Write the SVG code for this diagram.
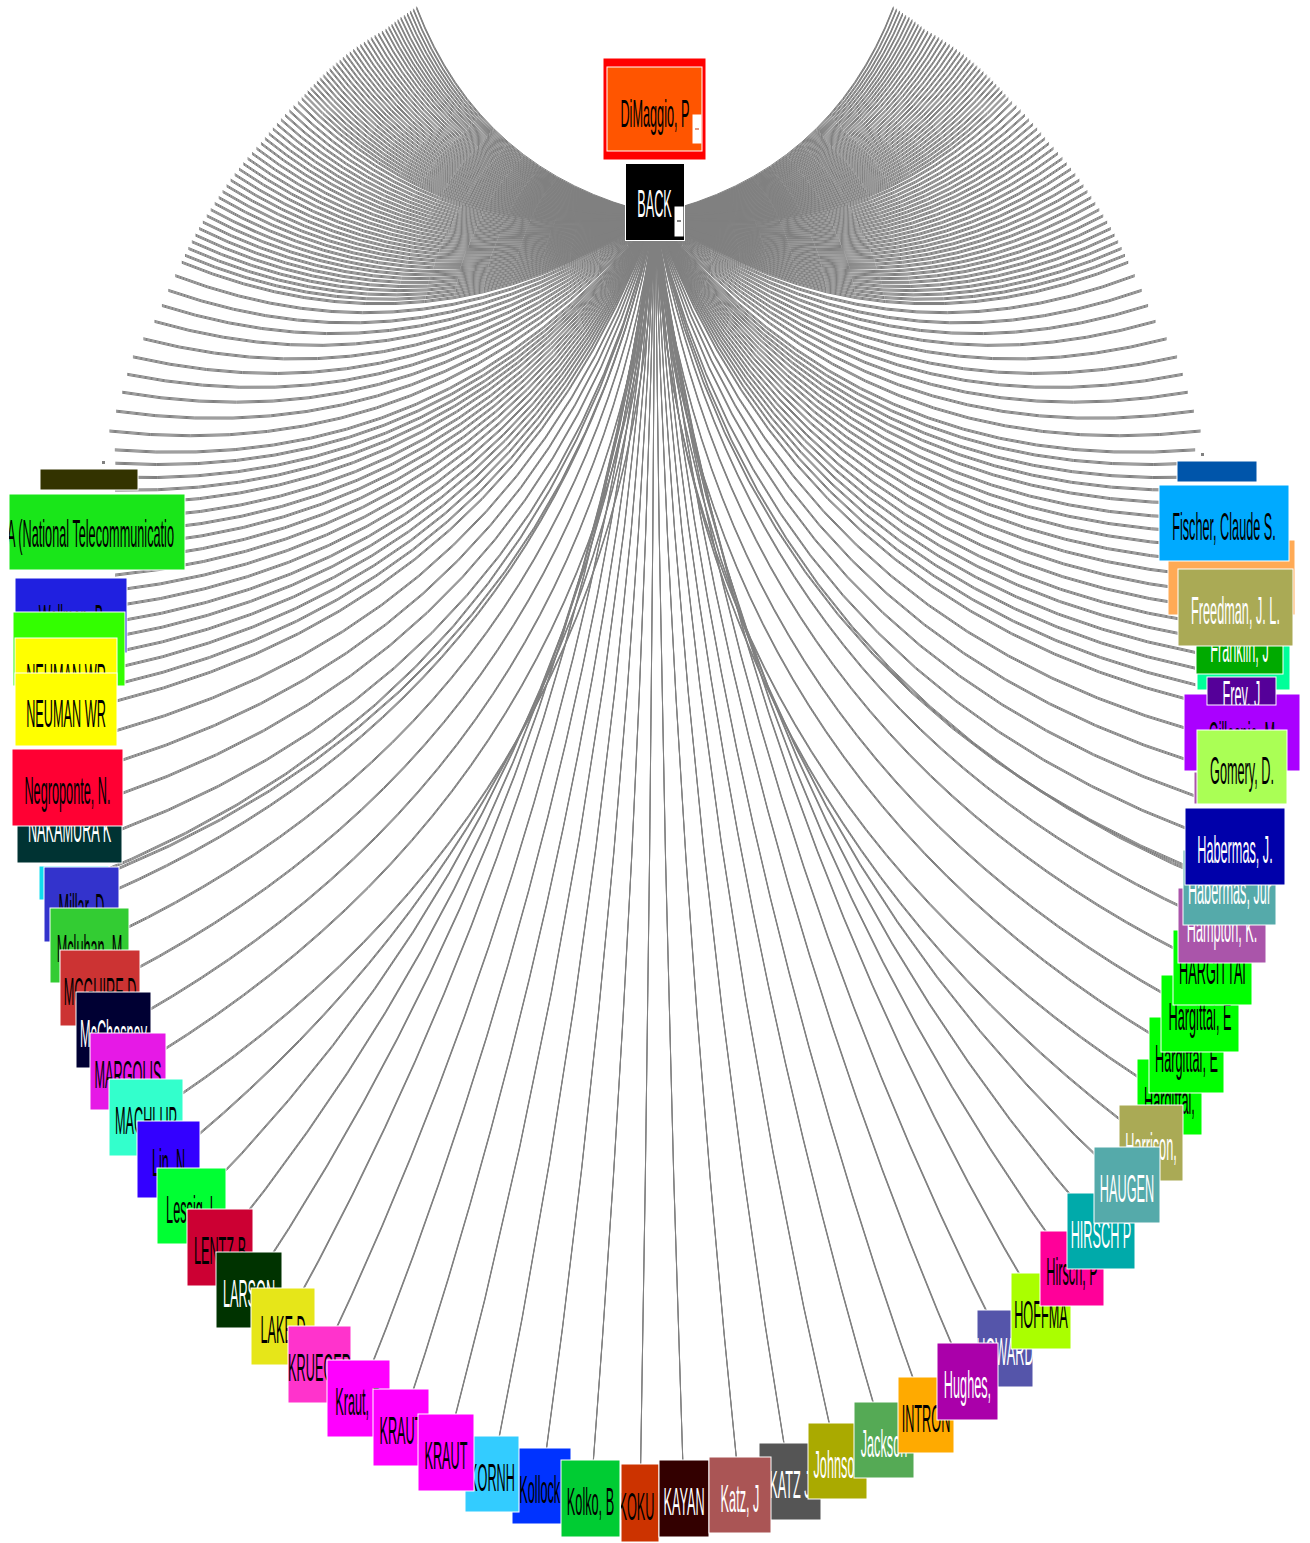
<svg xmlns="http://www.w3.org/2000/svg" xmlns:xlink="http://www.w3.org/1999/xlink" width="1310" height="1543" viewBox="0 0 1310 1543">
<style>
.n rect{stroke:#fff;stroke-width:1}
.n text{font-family:"Liberation Sans",Arial,sans-serif;font-size:12.7px;text-anchor:middle;fill:#000}
.n text.w{fill:#fff}
</style>
<defs>
<path id="cl" d="M-100 0Q-50 26.6 0 0" vector-effect="non-scaling-stroke"/>
<path id="cr" d="M100 0Q50 26.6 0 0" vector-effect="non-scaling-stroke"/>
<clipPath id="cL2"><rect x="9" y="494" width="176" height="76"/></clipPath>
<clipPath id="cL28"><rect x="621" y="1464" width="38" height="78"/></clipPath>
<clipPath id="cR7"><rect x="1207" y="677" width="69" height="28"/></clipPath>
<clipPath id="cR23"><rect x="977" y="1310" width="56" height="77"/></clipPath>
</defs>
<rect width="1310" height="1543" fill="#fff"/>
<g id="connectors" fill="none" stroke="#808080" stroke-width="1">
<g id="edges">
<g transform="translate(655 215)">
<use href="#cl" transform="rotate(41) scale(3.16)"/>
<use href="#cl" transform="rotate(40.35) scale(3.17)"/>
<use href="#cl" transform="rotate(39.7) scale(3.18)"/>
<use href="#cl" transform="rotate(39.05) scale(3.19)"/>
<use href="#cl" transform="rotate(38.4) scale(3.2)"/>
<use href="#cl" transform="rotate(37.75) scale(3.215)"/>
<use href="#cl" transform="rotate(37.1) scale(3.225)"/>
<use href="#cl" transform="rotate(36.45) scale(3.235)"/>
<use href="#cl" transform="rotate(35.8) scale(3.246)"/>
<use href="#cl" transform="rotate(35.15) scale(3.257)"/>
<use href="#cl" transform="rotate(34.5) scale(3.268)"/>
<use href="#cl" transform="rotate(33.85) scale(3.286)"/>
<use href="#cl" transform="rotate(33.2) scale(3.305)"/>
<use href="#cl" transform="rotate(32.55) scale(3.324)"/>
<use href="#cl" transform="rotate(31.9) scale(3.343)"/>
<use href="#cl" transform="rotate(31.25) scale(3.361)"/>
<use href="#cl" transform="rotate(30.6) scale(3.38)"/>
<use href="#cl" transform="rotate(29.95) scale(3.399)"/>
<use href="#cl" transform="rotate(29.3) scale(3.418)"/>
<use href="#cl" transform="rotate(28.65) scale(3.437)"/>
<use href="#cl" transform="rotate(28) scale(3.455)"/>
<use href="#cl" transform="rotate(27.35) scale(3.474)"/>
<use href="#cl" transform="rotate(26.7) scale(3.492)"/>
<use href="#cl" transform="rotate(26.05) scale(3.509)"/>
<use href="#cl" transform="rotate(25.4) scale(3.527)"/>
<use href="#cl" transform="rotate(24.75) scale(3.544)"/>
<use href="#cl" transform="rotate(24.1) scale(3.562)"/>
<use href="#cl" transform="rotate(23.45) scale(3.579)"/>
<use href="#cl" transform="rotate(22.8) scale(3.597)"/>
<use href="#cl" transform="rotate(22.15) scale(3.615)"/>
<use href="#cl" transform="rotate(21.5) scale(3.632)"/>
<use href="#cl" transform="rotate(20.85) scale(3.65)"/>
<use href="#cl" transform="rotate(20.2) scale(3.668)"/>
<use href="#cl" transform="rotate(19.55) scale(3.685)"/>
<use href="#cl" transform="rotate(18.9) scale(3.703)"/>
<use href="#cl" transform="rotate(18.25) scale(3.72)"/>
<use href="#cl" transform="rotate(17.5) scale(3.744)"/>
<use href="#cl" transform="rotate(16.7) scale(3.773)"/>
<use href="#cl" transform="rotate(15.9) scale(3.802)"/>
<use href="#cl" transform="rotate(15.1) scale(3.831)"/>
<use href="#cl" transform="rotate(14.3) scale(3.86)"/>
<use href="#cl" transform="rotate(13.5) scale(3.888)"/>
<use href="#cl" transform="rotate(12.7) scale(3.917)"/>
<use href="#cl" transform="rotate(11.9) scale(3.946)"/>
<use href="#cl" transform="rotate(11.1) scale(3.975)"/>
<use href="#cl" transform="rotate(10.3) scale(4.005)"/>
<use href="#cl" transform="rotate(9.5) scale(4.041)"/>
<use href="#cl" transform="rotate(8.7) scale(4.077)"/>
<use href="#cl" transform="rotate(7.9) scale(4.113)"/>
<use href="#cl" transform="rotate(7.1) scale(4.149)"/>
<use href="#cl" transform="rotate(6.3) scale(4.185)"/>
<use href="#cl" transform="rotate(5.5) scale(4.222)"/>
<use href="#cl" transform="rotate(4.7) scale(4.258)"/>
<use href="#cl" transform="rotate(3.9) scale(4.294)"/>
<use href="#cl" transform="rotate(3.1) scale(4.33)"/>
<use href="#cl" transform="rotate(2.3) scale(4.366)"/>
<use href="#cl" transform="rotate(1.5) scale(4.404)"/>
<use href="#cl" transform="rotate(0.7) scale(4.443)"/>
<use href="#cl" transform="rotate(-0.1) scale(4.482)"/>
<use href="#cl" transform="rotate(-0.9) scale(4.522)"/>
<use href="#cl" transform="rotate(-1.7) scale(4.561)"/>
<use href="#cl" transform="rotate(-2.5) scale(4.6)"/>
<use href="#cl" transform="rotate(-3.3) scale(4.639)"/>
<use href="#cl" transform="rotate(-4.1) scale(4.678)"/>
<use href="#cl" transform="rotate(-4.9) scale(4.717)"/>
<use href="#cl" transform="rotate(-5.7) scale(4.756)"/>
<use href="#cl" transform="rotate(-7.2) scale(4.836)"/>
<use href="#cl" transform="rotate(-8.8) scale(4.925)"/>
<use href="#cl" transform="rotate(-10.4) scale(5.013)"/>
<use href="#cl" transform="rotate(-12) scale(5.117)"/>
<use href="#cl" transform="rotate(-13.6) scale(5.264)"/>
<use href="#cl" transform="rotate(-15.2) scale(5.41)"/>
<use href="#cl" transform="rotate(-16.8) scale(5.513)"/>
<use href="#cl" transform="rotate(-18.4) scale(5.615)"/>
<use href="#cl" transform="rotate(-20) scale(5.735)"/>
<use href="#cl" transform="rotate(-21.6) scale(5.868)"/>
<use href="#cl" transform="rotate(-23.5) scale(5.89)"/>
<use href="#cl" transform="rotate(-24.7) scale(5.94)"/>
<use href="#cl" transform="rotate(-25.9) scale(6)"/>
<use href="#cl" transform="rotate(-27) scale(6.06)"/>
<use href="#cl" transform="rotate(-28.1) scale(6.12)"/>
<use href="#cl" transform="rotate(-29.3) scale(6.19)"/>
<use href="#cl" transform="rotate(-30.4) scale(6.26)"/>
<use href="#cl" transform="rotate(-31.5) scale(6.33)"/>
<use href="#cl" transform="rotate(-32.6) scale(6.41)"/>
<use href="#cl" transform="rotate(-33.7) scale(6.49)"/>
<use href="#cl" transform="rotate(-34.8) scale(6.58)"/>
<use href="#cl" transform="rotate(-35.9) scale(6.67)"/>
<use href="#cl" transform="rotate(-37) scale(6.76)"/>
<use href="#cl" transform="rotate(-38) scale(6.85)"/>
<use href="#cl" transform="rotate(-39) scale(6.95)"/>
<use href="#cl" transform="rotate(-40) scale(7.05)"/>
<use href="#cl" transform="rotate(-41) scale(7.16)"/>
<use href="#cl" transform="rotate(-42) scale(7.27)"/>
<use href="#cl" transform="rotate(-43.7) scale(7.47)"/>
<use href="#cl" transform="rotate(-45.4) scale(7.69)"/>
<use href="#cl" transform="rotate(-47.1) scale(7.93)"/>
<use href="#cl" transform="rotate(-48.8) scale(8.2)"/>
<use href="#cl" transform="rotate(-50.5) scale(8.49)"/>
<use href="#cr" transform="rotate(-41) scale(3.16)"/>
<use href="#cr" transform="rotate(-40.35) scale(3.17)"/>
<use href="#cr" transform="rotate(-39.7) scale(3.18)"/>
<use href="#cr" transform="rotate(-39.05) scale(3.19)"/>
<use href="#cr" transform="rotate(-38.4) scale(3.2)"/>
<use href="#cr" transform="rotate(-37.75) scale(3.215)"/>
<use href="#cr" transform="rotate(-37.1) scale(3.225)"/>
<use href="#cr" transform="rotate(-36.45) scale(3.235)"/>
<use href="#cr" transform="rotate(-35.8) scale(3.246)"/>
<use href="#cr" transform="rotate(-35.15) scale(3.257)"/>
<use href="#cr" transform="rotate(-34.5) scale(3.268)"/>
<use href="#cr" transform="rotate(-33.85) scale(3.286)"/>
<use href="#cr" transform="rotate(-33.2) scale(3.305)"/>
<use href="#cr" transform="rotate(-32.55) scale(3.324)"/>
<use href="#cr" transform="rotate(-31.9) scale(3.343)"/>
<use href="#cr" transform="rotate(-31.25) scale(3.361)"/>
<use href="#cr" transform="rotate(-30.6) scale(3.38)"/>
<use href="#cr" transform="rotate(-29.95) scale(3.399)"/>
<use href="#cr" transform="rotate(-29.3) scale(3.418)"/>
<use href="#cr" transform="rotate(-28.65) scale(3.437)"/>
<use href="#cr" transform="rotate(-28) scale(3.455)"/>
<use href="#cr" transform="rotate(-27.35) scale(3.474)"/>
<use href="#cr" transform="rotate(-26.7) scale(3.492)"/>
<use href="#cr" transform="rotate(-26.05) scale(3.509)"/>
<use href="#cr" transform="rotate(-25.4) scale(3.527)"/>
<use href="#cr" transform="rotate(-24.75) scale(3.544)"/>
<use href="#cr" transform="rotate(-24.1) scale(3.562)"/>
<use href="#cr" transform="rotate(-23.45) scale(3.579)"/>
<use href="#cr" transform="rotate(-22.8) scale(3.597)"/>
<use href="#cr" transform="rotate(-22.15) scale(3.615)"/>
<use href="#cr" transform="rotate(-21.5) scale(3.632)"/>
<use href="#cr" transform="rotate(-20.85) scale(3.65)"/>
<use href="#cr" transform="rotate(-20.2) scale(3.668)"/>
<use href="#cr" transform="rotate(-19.55) scale(3.685)"/>
<use href="#cr" transform="rotate(-18.9) scale(3.703)"/>
<use href="#cr" transform="rotate(-18.25) scale(3.72)"/>
<use href="#cr" transform="rotate(-17.5) scale(3.744)"/>
<use href="#cr" transform="rotate(-16.7) scale(3.773)"/>
<use href="#cr" transform="rotate(-15.9) scale(3.802)"/>
<use href="#cr" transform="rotate(-15.1) scale(3.831)"/>
<use href="#cr" transform="rotate(-14.3) scale(3.86)"/>
<use href="#cr" transform="rotate(-13.5) scale(3.888)"/>
<use href="#cr" transform="rotate(-12.7) scale(3.917)"/>
<use href="#cr" transform="rotate(-11.9) scale(3.946)"/>
<use href="#cr" transform="rotate(-11.1) scale(3.975)"/>
<use href="#cr" transform="rotate(-10.3) scale(4.005)"/>
<use href="#cr" transform="rotate(-9.5) scale(4.041)"/>
<use href="#cr" transform="rotate(-8.7) scale(4.077)"/>
<use href="#cr" transform="rotate(-7.9) scale(4.113)"/>
<use href="#cr" transform="rotate(-7.1) scale(4.149)"/>
<use href="#cr" transform="rotate(-6.3) scale(4.185)"/>
<use href="#cr" transform="rotate(-5.5) scale(4.222)"/>
<use href="#cr" transform="rotate(-4.7) scale(4.258)"/>
<use href="#cr" transform="rotate(-3.9) scale(4.294)"/>
<use href="#cr" transform="rotate(-3.1) scale(4.33)"/>
<use href="#cr" transform="rotate(-2.3) scale(4.366)"/>
<use href="#cr" transform="rotate(-1.5) scale(4.404)"/>
<use href="#cr" transform="rotate(-0.7) scale(4.443)"/>
<use href="#cr" transform="rotate(0.1) scale(4.482)"/>
<use href="#cr" transform="rotate(0.9) scale(4.522)"/>
<use href="#cr" transform="rotate(1.7) scale(4.561)"/>
<use href="#cr" transform="rotate(2.5) scale(4.6)"/>
<use href="#cr" transform="rotate(3.3) scale(4.639)"/>
<use href="#cr" transform="rotate(4.1) scale(4.678)"/>
<use href="#cr" transform="rotate(4.9) scale(4.717)"/>
<use href="#cr" transform="rotate(5.7) scale(4.756)"/>
<use href="#cr" transform="rotate(7.2) scale(4.836)"/>
<use href="#cr" transform="rotate(8.8) scale(4.925)"/>
<use href="#cr" transform="rotate(10.4) scale(5.013)"/>
<use href="#cr" transform="rotate(12) scale(5.117)"/>
<use href="#cr" transform="rotate(13.6) scale(5.264)"/>
<use href="#cr" transform="rotate(15.2) scale(5.41)"/>
<use href="#cr" transform="rotate(16.8) scale(5.513)"/>
<use href="#cr" transform="rotate(18.4) scale(5.615)"/>
<use href="#cr" transform="rotate(20) scale(5.735)"/>
<use href="#cr" transform="rotate(21.6) scale(5.868)"/>
<use href="#cr" transform="rotate(23.5) scale(5.89)"/>
<use href="#cr" transform="rotate(24.7) scale(5.94)"/>
<use href="#cr" transform="rotate(25.9) scale(6)"/>
<use href="#cr" transform="rotate(27) scale(6.06)"/>
<use href="#cr" transform="rotate(28.1) scale(6.12)"/>
<use href="#cr" transform="rotate(29.3) scale(6.19)"/>
<use href="#cr" transform="rotate(30.4) scale(6.26)"/>
<use href="#cr" transform="rotate(31.5) scale(6.33)"/>
<use href="#cr" transform="rotate(32.6) scale(6.41)"/>
<use href="#cr" transform="rotate(33.7) scale(6.49)"/>
<use href="#cr" transform="rotate(34.8) scale(6.58)"/>
<use href="#cr" transform="rotate(35.9) scale(6.67)"/>
<use href="#cr" transform="rotate(37) scale(6.76)"/>
<use href="#cr" transform="rotate(38) scale(6.85)"/>
<use href="#cr" transform="rotate(39) scale(6.95)"/>
<use href="#cr" transform="rotate(40) scale(7.05)"/>
<use href="#cr" transform="rotate(41) scale(7.16)"/>
<use href="#cr" transform="rotate(42) scale(7.27)"/>
<use href="#cr" transform="rotate(43.7) scale(7.47)"/>
<use href="#cr" transform="rotate(45.4) scale(7.69)"/>
<use href="#cr" transform="rotate(47.1) scale(7.93)"/>
<use href="#cr" transform="rotate(48.8) scale(8.2)"/>
<use href="#cr" transform="rotate(50.5) scale(8.49)"/>
</g>
<path d="M74 883Q542.2 703.5 655 215"/>
<path d="M81.5 904.5Q551.7 712.3 655 215"/>
<path d="M89.5 945.5Q566.6 730.7 655 215"/>
<path d="M100 987.5Q583 748.9 655 215"/>
<path d="M113.5 1030Q601.1 766.5 655 215"/>
<path d="M128 1071.5Q619.3 783.4 655 215"/>
<path d="M146 1117.5Q640.6 801.7 655 215"/>
<path d="M168.5 1159.5Q621 795 655 215"/>
<path d="M191.5 1206Q601.7 793.9 655 215"/>
<path d="M220 1247Q588.2 794.5 655 215"/>
<path d="M249 1290Q576.7 799.6 655 215"/>
<path d="M283 1326.5Q573 805.6 655 215"/>
<path d="M319.5 1364.5Q580.4 817 655 215"/>
<path d="M358.5 1398.5Q588.9 827.3 655 215"/>
<path d="M401 1427.5Q598.1 836 655 215"/>
<path d="M446 1452.5Q607.9 843.5 655 215"/>
<path d="M492 1474Q618.4 850.3 655 215"/>
<path d="M541.5 1486Q629.5 853.3 655 215"/>
<path d="M590.5 1498.5Q640.6 857.6 655 215"/>
<path d="M640 1503Q651.6 859 655 215"/>
<path d="M684 1498.5Q661.5 857 655 215"/>
<path d="M740 1495Q674.1 856.6 655 215"/>
<path d="M790 1481.5Q685.3 852.2 655 215"/>
<path d="M837.5 1461Q696 845.4 655 215"/>
<path d="M884 1440Q706.2 839.3 655 215"/>
<path d="M926 1415Q715.4 832 655 215"/>
<path d="M967.5 1381.5Q724.1 821.6 655 215"/>
<path d="M1005 1348.5Q732.6 811.8 655 215"/>
<path d="M1041 1311Q736.5 802.3 655 215"/>
<path d="M1072 1268.5Q727.3 795.7 655 215"/>
<path d="M1101 1231Q716.9 793.7 655 215"/>
<path d="M1127 1185Q699.9 793 655 215"/>
<path d="M1151 1143Q681.7 797.3 655 215"/>
<path d="M1169.5 1097Q677.7 792.9 655 215"/>
<path d="M1186.5 1055Q697.3 776.4 655 215"/>
<path d="M1200 1013.5Q715.1 759.2 655 215"/>
<path d="M1212.5 967.5Q733.6 739.6 655 215"/>
<path d="M1222 925.5Q749.5 721.1 655 215"/>
<path d="M1229.5 887.5Q763.4 704 655 215"/>
</g>
<use href="#edges" transform="translate(0 -1)"/>
<use href="#edges" transform="translate(0 1)"/>
<rect x="102" y="461" width="3" height="3" fill="#808080" stroke="none"/>
<rect x="1201" y="453" width="3" height="3" fill="#808080" stroke="none"/>
</g>
<g id="nodes">
<g id="n-L1" class="n"><rect x="40" y="469" width="98" height="21" fill="#333300"/></g>
<g id="n-L2" class="n"><rect x="9" y="494" width="176" height="76" fill="#19e619"/><g clip-path="url(#cL2)"><text style="text-anchor:start" transform="translate(7 547) scale(1 3.05)">A (National Telecommunicatio</text></g></g>
<g id="n-L3" class="n"><rect x="15" y="578" width="112" height="75" fill="#2020e0"/><text transform="translate(71 632) scale(1 3.05)">Wellman, B</text></g>
<g id="n-L4" class="n"><rect x="13" y="612" width="112" height="74" fill="#33ff00"/></g>
<g id="n-L5" class="n"><rect x="15" y="638" width="102" height="74" fill="#ffff00"/><text transform="translate(66 691) scale(1 3.05)">NEUMAN WR</text></g>
<g id="n-L6" class="n"><rect x="15" y="673" width="102" height="73" fill="#ffff00"/><text transform="translate(66 727) scale(1 3.05)">NEUMAN WR</text></g>
<g id="n-L8" class="n"><rect x="17" y="789" width="105" height="74" fill="#003333"/><text class="w" transform="translate(69.5 842) scale(1 3.05)">NAKAMURA K</text></g>
<g id="n-L7" class="n"><rect x="12" y="749" width="111" height="77" fill="#ff0033"/><text transform="translate(67.5 804) scale(1 3.05)">Negroponte, N.</text></g>
<g id="n-L9" class="n"><rect x="39" y="866" width="70" height="34" fill="#11ddee"/></g>
<g id="n-L10" class="n"><rect x="44" y="867" width="75" height="75" fill="#3333cc"/><text transform="translate(81.5 921) scale(1 3.05)">Millar, D</text></g>
<g id="n-L11" class="n"><rect x="50" y="908" width="79" height="75" fill="#33cc33"/><text transform="translate(89.5 962) scale(1 3.05)">Mcluhan, M</text></g>
<g id="n-L12" class="n"><rect x="60" y="950" width="80" height="76" fill="#cc3333"/><text transform="translate(100 1004.5) scale(1 3.05)">MCGUIRE D</text></g>
<g id="n-L13" class="n"><rect x="76" y="992" width="75" height="76" fill="#000033"/><text class="w" transform="translate(113.5 1046.5) scale(1 3.05)">McChesney</text></g>
<g id="n-L14" class="n"><rect x="90" y="1033" width="76" height="77" fill="#e619e6"/><text transform="translate(128 1088) scale(1 3.05)">MARGOLIS</text></g>
<g id="n-L15" class="n"><rect x="109" y="1079" width="74" height="77" fill="#33ffcc"/><text transform="translate(146 1134) scale(1 3.05)">MACHLUP</text></g>
<g id="n-L16" class="n"><rect x="137" y="1121" width="63" height="77" fill="#3300ff"/><text transform="translate(168.5 1176) scale(1 3.05)">Lin, N</text></g>
<g id="n-L17" class="n"><rect x="157" y="1168" width="69" height="76" fill="#00ff33"/><text transform="translate(191.5 1222.5) scale(1 3.05)">Lessig, L</text></g>
<g id="n-L18" class="n"><rect x="187" y="1209" width="66" height="77" fill="#cc0033"/><text transform="translate(220 1264) scale(1 3.05)">LENTZ B</text></g>
<g id="n-L19" class="n"><rect x="216" y="1252" width="66" height="76" fill="#003300"/><text class="w" transform="translate(249 1306.5) scale(1 3.05)">LARSON</text></g>
<g id="n-L20" class="n"><rect x="251" y="1288" width="64" height="77" fill="#e6e619"/><text transform="translate(283 1343) scale(1 3.05)">LAKE D</text></g>
<g id="n-L21" class="n"><rect x="288" y="1326" width="63" height="77" fill="#ff33cc"/><text transform="translate(319.5 1381) scale(1 3.05)">KRUEGER</text></g>
<g id="n-L22" class="n"><rect x="327" y="1360" width="63" height="77" fill="#ff00ff"/><text transform="translate(358.5 1415) scale(1 3.05)">Kraut, R</text></g>
<g id="n-L23" class="n"><rect x="373" y="1389" width="56" height="77" fill="#ff00ff"/><text transform="translate(401 1444) scale(1 3.05)">KRAUT</text></g>
<g id="n-L26" class="n"><rect x="512" y="1448" width="59" height="76" fill="#0033ff"/><text transform="translate(541.5 1502.5) scale(1 3.05)">Kollock,</text></g>
<g id="n-L25" class="n"><rect x="465" y="1436" width="54" height="76" fill="#33ccff"/><text transform="translate(492 1490.5) scale(1 3.05)">KORNH</text></g>
<g id="n-L24" class="n"><rect x="418" y="1414" width="56" height="77" fill="#ff00ff"/><text transform="translate(446 1469) scale(1 3.05)">KRAUT</text></g>
<g id="n-L27" class="n"><rect x="561" y="1460" width="59" height="77" fill="#00cc33"/><text transform="translate(590.5 1515) scale(1 3.05)">Kolko, B</text></g>
<g id="n-L28" class="n"><rect x="621" y="1464" width="38" height="78" fill="#cc3300"/><g clip-path="url(#cL28)"><text transform="translate(640 1519.5) scale(1 3.05)">KOKU I</text></g></g>
<g id="n-L29" class="n"><rect x="659" y="1460" width="50" height="77" fill="#330000"/><text class="w" transform="translate(684 1515) scale(1 3.05)">KAYAN</text></g>
<g id="n-L31" class="n"><rect x="759" y="1443" width="62" height="77" fill="#555555"/><text class="w" transform="translate(790 1498) scale(1 3.05)">KATZ J</text></g>
<g id="n-L30" class="n"><rect x="709" y="1457" width="62" height="76" fill="#aa5555"/><text class="w" transform="translate(740 1511.5) scale(1 3.05)">Katz, J</text></g>
<g id="n-R27" class="n"><rect x="808" y="1423" width="59" height="76" fill="#aaaa00"/><text class="w" transform="translate(837.5 1477.5) scale(1 3.05)">Johnson</text></g>
<g id="n-R26" class="n"><rect x="854" y="1402" width="60" height="76" fill="#55aa55"/><text class="w" transform="translate(884 1456.5) scale(1 3.05)">Jackson</text></g>
<g id="n-R25" class="n"><rect x="898" y="1377" width="56" height="76" fill="#ffaa00"/><text transform="translate(926 1431.5) scale(1 3.05)">INTRON</text></g>
<g id="n-R23" class="n"><rect x="977" y="1310" width="56" height="77" fill="#5555aa"/><g clip-path="url(#cR23)"><text class="w" transform="translate(1005 1365) scale(1 3.05)">HOWARD</text></g></g>
<g id="n-R22" class="n"><rect x="1011" y="1273" width="60" height="76" fill="#aaff00"/><text transform="translate(1041 1327.5) scale(1 3.05)">HOFFMA</text></g>
<g id="n-R21" class="n"><rect x="1040" y="1231" width="64" height="75" fill="#ff0099"/><text transform="translate(1072 1285) scale(1 3.05)">Hirsch, P</text></g>
<g id="n-R24" class="n"><rect x="937" y="1343" width="61" height="77" fill="#aa00aa"/><text class="w" transform="translate(967.5 1398) scale(1 3.05)">Hughes,</text></g>
<g id="n-R17" class="n"><rect x="1137" y="1059" width="65" height="76" fill="#00ff00"/><text transform="translate(1169.5 1113.5) scale(1 3.05)">Hargittai,</text></g>
<g id="n-R18" class="n"><rect x="1119" y="1105" width="64" height="76" fill="#aaaa55"/><text class="w" transform="translate(1151 1159.5) scale(1 3.05)">Harrison,</text></g>
<g id="n-R20" class="n"><rect x="1067" y="1193" width="68" height="76" fill="#00aaaa"/><text class="w" transform="translate(1101 1247.5) scale(1 3.05)">HIRSCH P</text></g>
<g id="n-R19" class="n"><rect x="1094" y="1147" width="66" height="76" fill="#55aaaa"/><text class="w" transform="translate(1127 1201.5) scale(1 3.05)">HAUGEN</text></g>
<g id="n-R16" class="n"><rect x="1149" y="1017" width="75" height="76" fill="#00ff00"/><text transform="translate(1186.5 1071.5) scale(1 3.05)">Hargittai, E</text></g>
<g id="n-R15" class="n"><rect x="1161" y="975" width="78" height="77" fill="#00ff00"/><text transform="translate(1200 1030) scale(1 3.05)">Hargittai, E</text></g>
<g id="n-R14" class="n"><rect x="1173" y="930" width="79" height="75" fill="#00ff00"/><text transform="translate(1212.5 984) scale(1 3.05)">HARGITTAI</text></g>
<g id="n-R13" class="n"><rect x="1178" y="888" width="88" height="75" fill="#aa55aa"/><text class="w" transform="translate(1222 942) scale(1 3.05)">Hampton, K.</text></g>
<g id="n-R12" class="n"><rect x="1183" y="850" width="93" height="75" fill="#55aaaa"/><text class="w" transform="translate(1229.5 904) scale(1 3.05)">Habermas, Jur</text></g>
<g id="n-R11" class="n"><rect x="1185" y="808" width="100" height="77" fill="#0000aa"/><text class="w" transform="translate(1235 863) scale(1 3.05)">Habermas, J.</text></g>
<g id="n-R10" class="n"><rect x="1194" y="772" width="4" height="32" fill="#aa55aa" stroke="none"/></g>
<g id="n-R3" class="n"><rect x="1168" y="540" width="127" height="75" fill="#ffaa55"/></g>
<g id="n-R6" class="n"><rect x="1197" y="614" width="93" height="76" fill="#00ff99"/></g>
<g id="n-R8" class="n"><rect x="1184" y="694" width="116" height="77" fill="#aa00ff"/><text transform="translate(1242 749) scale(1 3.05)">Gillespie, M</text></g>
<g id="n-R7" class="n"><rect x="1207" y="677" width="69" height="28" fill="#550099"/><g clip-path="url(#cR7)"><text class="w" transform="translate(1241.5 708) scale(1 3.05)">Frey, J</text></g></g>
<g id="n-R9" class="n"><rect x="1197" y="730" width="90" height="74" fill="#aaff55"/><text transform="translate(1242 783.5) scale(1 3.05)">Gomery, D.</text></g>
<g id="n-R5" class="n"><rect x="1196" y="598" width="87" height="76" fill="#00aa00"/><text class="w" transform="translate(1239.5 662) scale(1 3.05)">Franklin, J</text></g>
<g id="n-R4" class="n"><rect x="1178" y="569" width="115" height="77" fill="#aaaa55"/><text class="w" transform="translate(1235.5 624) scale(1 3.05)">Freedman, J. L.</text></g>
<g id="n-R2" class="n"><rect x="1159" y="485" width="130" height="76" fill="#00aaff"/><text transform="translate(1224 539.5) scale(1 3.05)">Fischer, Claude S.</text></g>
<g id="n-R1" class="n"><rect x="1177" y="461" width="80" height="21" fill="#0055aa"/></g>
<g id="n-BACK" class="n"><rect x="625.5" y="163.5" width="59" height="77" fill="#000"/><text class="w" transform="translate(654.5 217) scale(1 3.05)">BACK</text><rect x="675" y="207" width="8" height="29" fill="#fff" stroke="none"/><rect x="676.5" y="220" width="5" height="2" fill="#000" stroke="none"/></g>
<g id="n-DiMaggio" class="n"><rect x="603" y="58" width="103" height="102" fill="#ff0000" stroke="none"/><rect x="607" y="67" width="95" height="84" fill="#ff5500"/><text transform="translate(655 127) scale(1 3.05)">DiMaggio, P</text><rect x="693" y="115" width="8" height="28" fill="#fff" stroke="none"/><rect x="694.5" y="128" width="5" height="2" fill="#cc3300" stroke="none"/></g>
</g>
</svg>
